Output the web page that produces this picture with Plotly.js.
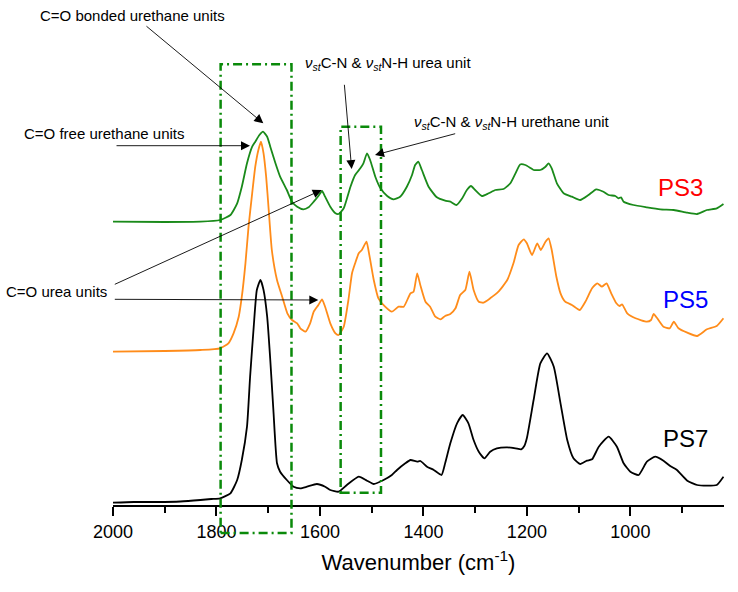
<!DOCTYPE html>
<html>
<head>
<meta charset="utf-8">
<script src="https://cdn.plot.ly/plotly-3.0.1.min.js"></script>
<style>html,body{margin:0;padding:0;background:#fff;}#chart{width:738px;height:592px;}</style>
</head>
<body>
<div id="chart"></div>
<script>
// Wavenumber (cm-1) and absorbance (a.u., stacked with offsets)
const wnPS7 = [2000,1960,1916,1870,1831,1810,1793,1773,1760,1751,1741,1735,1728,1722,1715,1709,1702,1696,1690,1683,1677,1664,1651,1638,1625,1606,1590,1580,1564,1548,1525,1509,1496,1477,1461,1451,1435,1425,1412,1406,1393,1380,1365,1358,1348,1335,1324,1313,1303,1293,1282,1271,1258,1238,1222,1211,1205,1200,1187,1174,1161,1148,1135,1122,1110,1097,1084,1074,1061,1042,1026,1013,1000,984,968,952,936,923,910,890,871,852,833,820];
const absPS7 = [0.023,0.030,0.030,0.035,0.050,0.060,0.067,0.117,0.250,0.450,0.783,1.283,1.783,2.150,2.250,2.150,1.883,1.450,0.950,0.417,0.333,0.250,0.183,0.167,0.183,0.210,0.183,0.150,0.133,0.200,0.283,0.243,0.210,0.250,0.300,0.350,0.417,0.450,0.433,0.440,0.383,0.350,0.300,0.417,0.617,0.817,0.900,0.817,0.650,0.533,0.467,0.533,0.567,0.577,0.567,0.557,0.590,0.670,1.050,1.417,1.517,1.383,1.017,0.650,0.467,0.410,0.443,0.457,0.583,0.683,0.583,0.417,0.333,0.300,0.433,0.483,0.443,0.390,0.350,0.243,0.200,0.193,0.200,0.283];

const wnPS5 = [2000,1900,1831,1793,1777,1767,1757,1751,1744,1738,1731,1725,1719,1714,1709,1704,1699,1693,1683,1673,1663,1654,1644,1638,1628,1619,1612,1603,1596,1590,1580,1570,1564,1554,1545,1538,1532,1525,1519,1510,1504,1496,1487,1474,1461,1448,1438,1425,1419,1412,1406,1396,1387,1377,1367,1358,1348,1338,1329,1319,1311,1303,1293,1284,1271,1255,1238,1226,1216,1206,1200,1190,1180,1173,1164,1158,1152,1143,1135,1126,1113,1098,1087,1074,1064,1055,1046,1037,1027,1021,1016,1006,990,968,960,955,948,936,924,916,907,890,871,852,833,820];
const absPS5 = [1.533,1.540,1.550,1.567,1.617,1.717,1.883,2.083,2.417,2.783,3.117,3.383,3.550,3.633,3.517,3.283,2.950,2.550,2.250,2.083,1.917,1.850,1.817,1.767,1.733,1.817,1.933,2.000,2.057,1.983,1.817,1.717,1.700,1.783,2.050,2.317,2.417,2.517,2.550,2.633,2.483,2.250,2.067,1.983,1.933,1.983,1.983,2.117,2.133,2.317,2.200,2.033,1.983,1.883,1.857,1.890,1.910,1.967,2.100,2.150,2.333,2.150,2.033,2.023,2.067,2.133,2.250,2.417,2.600,2.657,2.617,2.500,2.617,2.550,2.633,2.667,2.550,2.283,2.117,2.033,2.000,1.950,2.033,2.167,2.217,2.183,2.217,2.117,2.017,1.990,2.007,1.917,1.867,1.833,1.850,1.910,1.867,1.783,1.767,1.833,1.767,1.723,1.690,1.757,1.790,1.867];

const wnPS3 = [2000,1900,1831,1793,1773,1760,1751,1741,1731,1725,1717,1710,1702,1696,1686,1677,1664,1654,1644,1632,1622,1612,1603,1596,1590,1580,1570,1564,1554,1541,1532,1522,1516,1509,1503,1493,1483,1470,1458,1445,1432,1422,1416,1410,1403,1390,1374,1358,1348,1336,1325,1316,1308,1300,1287,1274,1261,1245,1232,1222,1213,1203,1193,1187,1174,1164,1158,1152,1142,1129,1113,1097,1081,1066,1052,1042,1029,1023,1018,1013,994,968,942,916,890,871,852,833,820];
const absPS3 = [2.833,2.830,2.833,2.850,2.900,3.017,3.183,3.417,3.583,3.633,3.700,3.733,3.683,3.583,3.417,3.283,3.150,3.033,2.983,2.957,2.977,3.033,3.090,3.140,3.083,2.983,2.917,2.910,2.967,3.183,3.300,3.367,3.417,3.517,3.450,3.283,3.167,3.090,3.057,3.083,3.183,3.300,3.400,3.433,3.350,3.183,3.077,3.043,3.033,3.000,3.067,3.150,3.190,3.150,3.090,3.117,3.150,3.160,3.217,3.317,3.405,3.400,3.370,3.350,3.350,3.383,3.417,3.367,3.217,3.117,3.083,3.050,3.100,3.157,3.133,3.100,3.090,3.067,3.077,3.033,3.000,2.977,2.957,2.950,2.923,2.910,2.950,2.967,3.010];

const seriesNames = ["PS3","PS5","PS7"];
const xTickVals = [2000,1800,1600,1400,1200,1000];
const xTickText = ["2000","1800","1600","1400","1200","1000"];

const FONT = "Arial, 'Liberation Sans', sans-serif";
const GREEN_BOX = "#0a8a0a";

const line = (c) => ({color: c, width: 1.8, shape: 'spline', smoothing: 0.5});
const traces = [
  {x: wnPS3, y: absPS3, name: seriesNames[0], mode: 'lines', line: line('#1a8a1a')},
  {x: wnPS5, y: absPS5, name: seriesNames[1], mode: 'lines', line: line('#ff8c1a')},
  {x: wnPS7, y: absPS7, name: seriesNames[2], mode: 'lines', line: line('#000000')}
];

const box = (x0, x1, y0, y1) => ({
  type: 'rect', xref: 'x', yref: 'paper', x0: x0, x1: x1, y0: y0, y1: y1,
  line: {color: GREEN_BOX, width: 2.5, dash: '9px,4px,2px,4px'}, fillcolor: 'rgba(0,0,0,0)', layer: 'above'
});

const txt = (text, x, y, opts) => Object.assign({
  text: text, xref: 'paper', yref: 'paper', x: x, y: y, showarrow: false,
  xanchor: 'center', yanchor: 'middle', font: {family: FONT, size: 15, color: '#000'}
}, opts || {});

const arrow = (xh, yh, xt, yt) => ({
  text: '', xref: 'x', yref: 'y', x: xh, y: yh, axref: 'x', ayref: 'y', ax: xt, ay: yt,
  showarrow: true, arrowhead: 2, arrowsize: 2, arrowwidth: 0.9, arrowcolor: '#000', standoff: 0, startstandoff: 0
});

const nu = "<i>ν</i><sub><i>st</i></sub>";

const layout = {
  width: 738, height: 592,
  margin: {l: 113, r: 14, t: 0, b: 87},
  paper_bgcolor: '#fff', plot_bgcolor: '#fff',
  showlegend: false,
  font: {family: FONT, color: '#000'},
  xaxis: {
    range: [2000, 819], autorange: false,
    tickvals: xTickVals, ticktext: xTickText,
    ticks: 'outside', ticklen: 9, tickwidth: 2, tickcolor: '#000',
    minor: {dtick: 100, tick0: 2000, ticks: 'outside', ticklen: 6, tickwidth: 2, tickcolor: '#000'},
    showline: true, linecolor: '#000', linewidth: 2,
    showgrid: false, zeroline: false,
    tickfont: {family: FONT, size: 18, color: '#000'},
    title: {text: 'Wavenumber (cm<sup>-1</sup>)', font: {family: FONT, size: 22, color: '#000'}, standoff: 14}
  },
  yaxis: {range: [0, 5.05], autorange: false, visible: false, showgrid: false, zeroline: false},
  shapes: [
    box(1792, 1655, -0.0554, 0.8727),
    box(1560, 1482, 0.0244, 0.7491)
  ],
  annotations: [
    txt('C=O bonded urethane units', 0.0311, 0.9693),
    txt('C=O free urethane units', -0.0131, 0.7347),
    txt('C=O urea units', -0.0921, 0.4218),
    txt(nu + 'C-N &amp; ' + nu + 'N-H urea unit', 0.311, 0.874, {xanchor: 'left'}),
    txt(nu + 'C-N &amp; ' + nu + 'N-H urethane unit', 0.4889, 0.758, {xanchor: 'left'}),
    txt('PS3', 0.9296, 0.6297, {font: {family: FONT, size: 24, color: '#ff0000'}}),
    txt('PS5', 0.9378, 0.4079, {font: {family: FONT, size: 24, color: '#0000ff'}}),
    txt('PS7', 0.9378, 0.1307, {font: {family: FONT, size: 24, color: '#000000'}}),
    arrow(1709.5, 3.817, 1938.2, 4.80),
    arrow(1735.2, 3.593, 1996.1, 3.593),
    arrow(1596.6, 3.15, 1999.4, 2.20),
    arrow(1603.2, 2.05, 1999.4, 2.057),
    arrow(1538.7, 3.36, 1553, 4.217),
    arrow(1493.6, 3.50, 1335.7, 3.717)
  ]
};

Plotly.newPlot('chart', traces, layout, {staticPlot: true, displayModeBar: false});
</script>
</body>
</html>
